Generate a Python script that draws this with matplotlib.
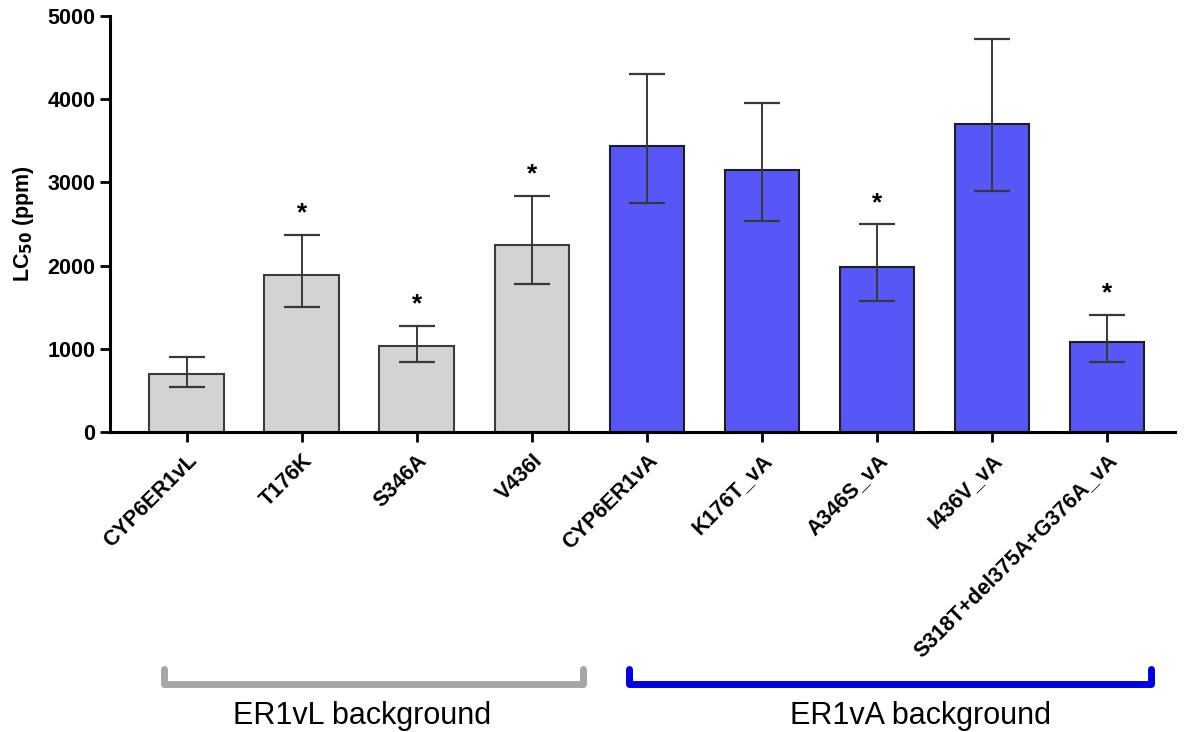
import numpy as np
import matplotlib
matplotlib.use("Agg")
import matplotlib.pyplot as plt

plt.rcParams['font.family'] = ['Liberation Sans', 'DejaVu Sans']

# data
labels = ["CYP6ER1vL", "T176K", "S346A", "V436I", "CYP6ER1vA",
          "K176T_vA", "A346S_vA", "I436V_vA", "S318T+del375A+G376A_vA"]
lc50 = [700, 1890, 1030, 2250, 3440, 3150, 1980, 3700, 1080]
ci_upper = [900, 2370, 1280, 2840, 4300, 3950, 2500, 4720, 1410]
ci_lower = [540, 1500, 840, 1780, 2750, 2530, 1580, 2900, 840]
significant = [False, True, True, True, False, False, True, False, True]

groups = ["ER1vL background", "ER1vA background"]
group_members = [(0, 3), (4, 8)]
group_colors = ["#a6a6a6", "#0000e6"]
bar_fill = ["#d3d3d3", "#5757f7"]
bar_edge = ["#3c3c3c", "#1e1e1e"]

fig = plt.figure(figsize=(11.86, 7.32), dpi=100)
ax = fig.add_axes([0.0927, 0.4094, 0.898, 0.5692])

x = np.arange(len(labels))
fills, edges = [], []
for i in x:
    g = 0 if i <= group_members[0][1] else 1
    fills.append(bar_fill[g])
    edges.append(bar_edge[g])

ax.bar(x, lc50, width=0.65, color=fills, edgecolor=edges, linewidth=1.5, zorder=2)

lc50_a = np.array(lc50)
yerr = np.vstack([lc50_a - np.array(ci_lower), np.array(ci_upper) - lc50_a])
ax.errorbar(x, lc50, yerr=yerr, fmt='none', ecolor='#383838', elinewidth=1.4,
            capsize=13, capthick=1.6, zorder=3)

for i, s in enumerate(significant):
    if s:
        ax.text(i, ci_upper[i] + 110, "*", ha='center', va='bottom',
                fontsize=19, fontweight='bold')

ax.set_xlim(-0.668, 8.59)
ax.set_ylim(0, 5000)
ax.set_yticks([0, 1000, 2000, 3000, 4000, 5000])
ax.set_xticks(x)
ax.set_xticklabels(labels, rotation=45, ha='right', va='top',
                   rotation_mode='anchor', fontsize=15.5, fontweight='bold')
for t in ax.get_yticklabels():
    t.set_fontweight('bold')
    t.set_fontsize(15.5)

ax.set_ylabel("LC$_{\\mathbf{50}}$ (ppm)", fontsize=15.5, fontweight='bold', labelpad=8)

for side in ['top', 'right']:
    ax.spines[side].set_visible(False)
for side in ['left', 'bottom']:
    ax.spines[side].set_linewidth(2.2)
ax.tick_params(axis='both', width=2, length=7, color='black')
ax.tick_params(axis='x', pad=6)

# group brackets below the axis
trans = ax.get_xaxis_transform()
bracket_pad = [(0.2, 0.44), (0.155, 0.38)]
text_shift = [0.02, 0.38]
for (a, b), name, col, (pl, pr), ts in zip(group_members, groups, group_colors,
                                           bracket_pad, text_shift):
    x0, x1 = a - pl, b + pr
    ax.plot([x0, x0, x1, x1], [-0.567, -0.605, -0.605, -0.567], transform=trans,
            color=col, linewidth=5, solid_capstyle='round',
            solid_joinstyle='round', clip_on=False)
    ax.text((a + b) / 2 + ts, -0.68, name, transform=trans, ha='center',
            va='center', fontsize=22, clip_on=False)

fig.savefig("out.png", dpi=100)
